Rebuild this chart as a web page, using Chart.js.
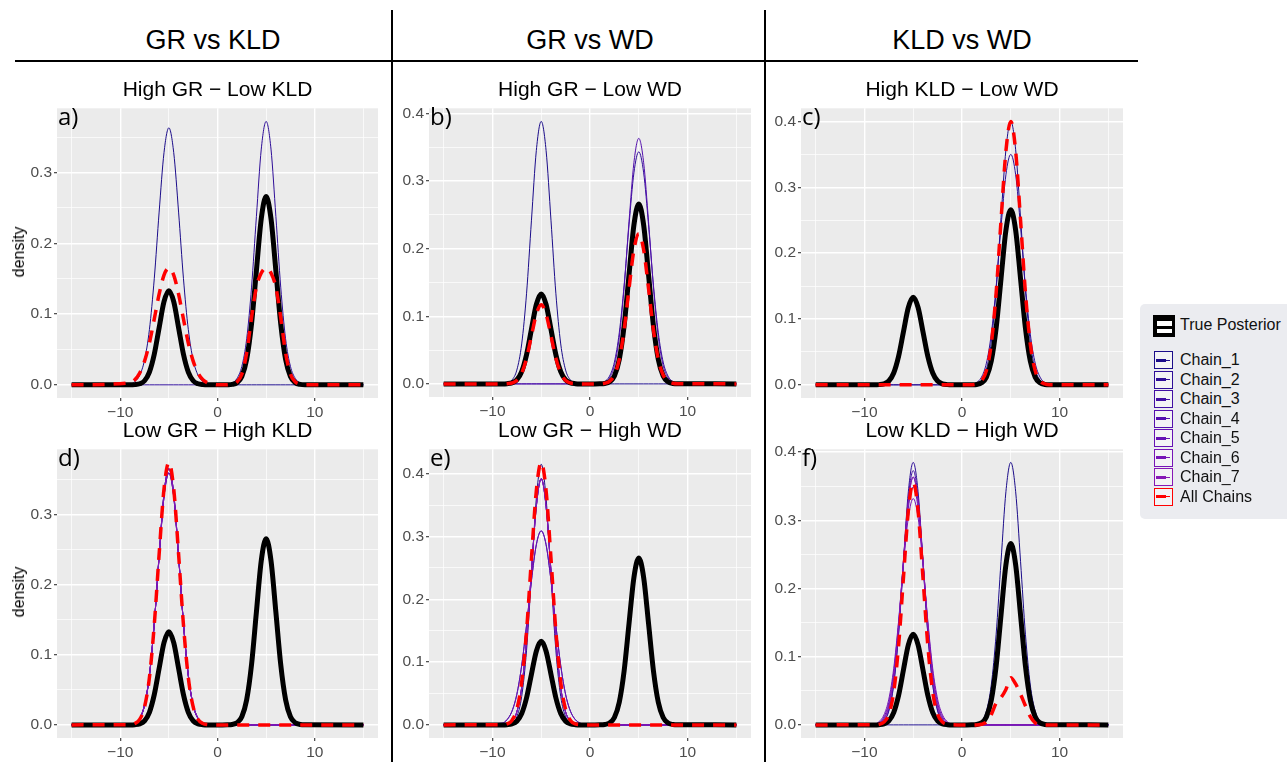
<!DOCTYPE html>
<html><head><meta charset="utf-8">
<script src="https://cdn.jsdelivr.net/npm/chart.js@4.4.1/dist/chart.umd.min.js"></script>
<style>
body{margin:0;background:#fff;}
#root{position:relative;width:1287px;height:762px;overflow:hidden;font-family:'Liberation Sans',Arial,sans-serif;color:#000;}
.abs{position:absolute;}
.hdr{position:absolute;font-size:27px;transform:translate(-50%,-50%);white-space:nowrap;}
.ptitle{position:absolute;font-size:21px;transform:translate(-50%,-50%);white-space:nowrap;}
.plabel{position:absolute;font-family:'Open Sans',sans-serif;font-size:24px;line-height:24px;}
.ylab{position:absolute;font-size:16px;transform:translate(-50%,-50%) rotate(-90deg);white-space:nowrap;}
.legtxt{position:absolute;font-size:16px;transform:translateY(-50%);white-space:nowrap;color:#111;}
canvas{position:absolute;}
</style></head>
<body><div id="root">
<div class="hdr" style="left:213px;top:40px">GR vs KLD</div>
<div class="hdr" style="left:590px;top:40px">GR vs WD</div>
<div class="hdr" style="left:962px;top:40px">KLD vs WD</div>
<div class="abs" style="left:15px;top:60px;width:1123px;height:2px;background:#000"></div>
<div class="abs" style="left:391px;top:10px;width:2px;height:752px;background:#000"></div>
<div class="abs" style="left:764px;top:10px;width:2px;height:752px;background:#000"></div>
</div>
<script>
// ---------- DATA ----------
const xs = [-15, -9, -8.5, -8, -7.5, -7, -6.5, -6, -5.5, -5, -4.5, -4, -3.5, -3, -2.5, -2, -1.5, -1, -0.5, 0, 0.5, 1, 1.5, 2, 2.5, 3, 3.5, 4, 4.5, 5, 5.5, 6, 6.5, 7, 7.5, 8, 8.5, 9, 15];

const truePosterior = [0, 0, .0003, .0015, .0058, .0180, .0432, .0807, .1174, .1330, .1174, .0807, .0432, .0180, .0058, .0015, .0003, 0, 0, 0, 0, .0001, .0006, .0030, .0117, .0360, .0863, .1613, .2347, .2659, .2347, .1613, .0863, .0360, .0117, .0030, .0006, .0001, 0];

// a) High GR - Low KLD
const aChainLeft = [0, .0012, .0045, .0135, .035, .078, .150, .244, .328, .363, .328, .244, .150, .078, .035, .0135, .0045, .0012, 0, 0,0,0,0,0, 0,0,0,0,0, 0,0,0,0,0, 0,0,0,0,0];
const aChainRight = [0,0,0,0,0, 0,0,0,0,0, 0,0,0,0,0, 0,0,0,0,0, 0, .0006, .0025, .0090, .0260, .0650, .138, .238, .333, .372, .333, .238, .138, .0650, .0260, .0090, .0025, .0006, 0];
const aAllChains = [0, .0028, .0072, .0166, .0335, .059, .093, .128, .155, .165, .155, .128, .093, .059, .0335, .0166, .0072, .0028, .001, 0, 0, .0002, .001, .004, .015, .045, .095, .138, .158, .165, .158, .138, .095, .045, .015, .004, .001, .0002, 0];

// b) High GR - Low WD
const bChainLeft = [0, .0002, .0012, .0056, .0204, .059, .134, .242, .345, .388, .345, .242, .134, .059, .0204, .0056, .0012, .0002, 0, 0,0,0,0,0, 0,0,0,0,0, 0,0,0,0,0, 0,0,0,0,0];
const bChainRight1 = [0,0,0,0,0, 0,0,0,0,0, 0,0,0,0,0, 0,0,0,0,0, 0, .0008, .0033, .0114, .0322, .0755, .146, .235, .312, .343, .312, .235, .146, .0755, .0322, .0114, .0033, .0008, 0];
const bChainRight2 = [0,0,0,0,0, 0,0,0,0,0, 0,0,0,0,0, 0,0,0,0,0, 0, .0005, .0023, .0088, .027, .069, .143, .240, .327, .363, .327, .240, .143, .069, .027, .0088, .0023, .0005, 0];
const bAllChains = [0, 0, .0003, .0013, .0051, .0158, .038, .071, .103, .117, .103, .071, .038, .0158, .0051, .0013, .0003, 0, 0, 0, 0, .0002, .0009, .0038, .0131, .0362, .080, .141, .198, .222, .198, .141, .080, .0362, .0131, .0038, .0009, .0002, 0];

// c) High KLD - Low WD
const cChainTall = [0,0,0,0,0, 0,0,0,0,0, 0,0,0,0,0, 0,0,0,0,0, 0, .0003, .0016, .0068, .0235, .065, .144, .254, .357, .400, .357, .254, .144, .065, .0235, .0068, .0016, .0003, 0];
const cChainShort = [0,0,0,0,0, 0,0,0,0,0, 0,0,0,0,0, 0,0,0,0,0, 0, .0008, .0034, .0117, .0329, .077, .149, .240, .319, .350, .319, .240, .149, .077, .0329, .0117, .0034, .0008, 0];
const cAllChains = [0,0,0,0,0, 0,0,0,0,0, 0,0,0,0,0, 0,0,0,0,0, 0, .0002, .0014, .006, .0215, .062, .140, .250, .355, .400, .355, .250, .140, .062, .0215, .006, .0014, .0002, 0];

// d) Low GR - High KLD
const dChain1 = [0, .0005, .0023, .0089, .0277, .070, .145, .242, .330, .366, .330, .242, .145, .070, .0277, .0089, .0023, .0005, 0, 0,0,0,0,0, 0,0,0,0,0, 0,0,0,0,0, 0,0,0,0,0];
const dChain2 = [0, .0006, .0026, .0095, .029, .071, .145, .240, .326, .360, .326, .240, .145, .071, .029, .0095, .0026, .0006, 0, 0,0,0,0,0, 0,0,0,0,0, 0,0,0,0,0, 0,0,0,0,0];
const dAllChains = [0, .0004, .002, .0079, .0257, .0675, .143, .244, .337, .375, .337, .244, .143, .0675, .0257, .0079, .002, .0004, 0, 0,0,0,0,0, 0,0,0,0,0, 0,0,0,0,0, 0,0,0,0,0];

// e) Low GR - High WD
const eChainA = [0, 0, .0005, .0028, .013, .0452, .119, .239, .361, .415, .361, .239, .119, .0452, .013, .0028, .0005, 0, 0, 0,0,0,0,0, 0,0,0,0,0, 0,0,0,0,0, 0,0,0,0,0];
const eChainB = [0, .0002, .0012, .0056, .0206, .0596, .136, .245, .348, .392, .348, .245, .136, .0596, .0206, .0056, .0012, .0002, 0, 0,0,0,0,0, 0,0,0,0,0, 0,0,0,0,0, 0,0,0,0,0];
const eChainC = [0, .0027, .0083, .0216, .0485, .0946, .159, .230, .287, .309, .287, .230, .159, .0946, .0485, .0216, .0083, .0027, .0008, 0,0,0,0,0, 0,0,0,0,0, 0,0,0,0,0, 0,0,0,0,0];
const eAllChains = [0, .0003, .0016, .0071, .0246, .068, .150, .265, .373, .418, .373, .265, .150, .068, .0246, .0071, .0016, .0003, 0, 0,0,0,0,0, 0,0,0,0,0, 0,0,0,0,0, 0,0,0,0,0];

// f) Low KLD - High WD
const fChainRight = [0,0,0,0,0, 0,0,0,0,0, 0,0,0,0,0, 0,0,0,0,0, 0, .0002, .0012, .0055, .0203, .0585, .133, .240, .342, .385, .342, .240, .133, .0585, .0203, .0055, .0012, .0002, 0];
const fChainL1 = [0, .0002, .0012, .0055, .0203, .0585, .133, .240, .342, .385, .342, .240, .133, .0585, .0203, .0055, .0012, .0002, 0, 0,0,0,0,0, 0,0,0,0,0, 0,0,0,0,0, 0,0,0,0,0];
const fChainL2 = [0, .0003, .0015, .0063, .0219, .0608, .134, .237, .333, .373, .333, .237, .134, .0608, .0219, .0063, .0015, .0003, 0, 0,0,0,0,0, 0,0,0,0,0, 0,0,0,0,0, 0,0,0,0,0];
const fChainL3 = [0, .0005, .0023, .0088, .0275, .0694, .144, .241, .328, .3635, .328, .241, .144, .0694, .0275, .0088, .0023, .0005, 0, 0,0,0,0,0, 0,0,0,0,0, 0,0,0,0,0, 0,0,0,0,0];
const fChainL4 = [0, .0008, .0034, .0116, .0328, .0768, .149, .239, .318, .349, .318, .239, .149, .0768, .0328, .0116, .0034, .0008, 0, 0,0,0,0,0, 0,0,0,0,0, 0,0,0,0,0, 0,0,0,0,0];
const fChainL5 = [0, .0013, .0047, .0146, .0378, .0827, .152, .235, .304, .332, .304, .235, .152, .0827, .0378, .0146, .0047, .0013, .0003, 0,0,0,0,0, 0,0,0,0,0, 0,0,0,0,0, 0,0,0,0,0];
const fAllChains = [0, .0001, .0008, .004, .0156, .048, .116, .216, .314, .356, .314, .216, .116, .048, .0156, .004, .0008, .0001, 0, 0, 0, 0, 0, .001, .004, .015, .032, .040, .052, .069, .060, .045, .028, .012, .003, .0005, 0, 0, 0];

// which chain (Chain_1..Chain_7) draws which curve in each panel
const aChains = [aChainLeft, aChainRight, null, null, null, null, null];
const bChains = [bChainLeft, bChainRight1, null, bChainRight2, null, null, null];
const cChains = [cChainTall, cChainShort, null, null, null, null, null];
const dChains = [dChain1, dChain2, dChain1, dChain2, dChain1, dChain2, dChain1];
const eChains = [eChainA, eChainB, eChainC, eChainB, eChainC, eChainB, eChainB];
const fChains = [fChainRight, fChainL1, fChainL2, fChainL3, fChainL4, fChainL5, fChainL3];

const panelTitles = ['High GR \u2212 Low KLD', 'High GR \u2212 Low WD', 'High KLD \u2212 Low WD', 'Low GR \u2212 High KLD', 'Low GR \u2212 High WD', 'Low KLD \u2212 High WD'];
const panelLetters = ['a)', 'b)', 'c)', 'd)', 'e)', 'f)'];
const xTickValues = [-15, -10, -5, 0, 5, 10, 15];
const chainLabels = ['Chain_1', 'Chain_2', 'Chain_3', 'Chain_4', 'Chain_5', 'Chain_6', 'Chain_7'];
const allLabel = 'All Chains';
const trueLabel = 'True Posterior';
const yAxisTitle = 'density';

// ---------- STYLE / LAYOUT ----------
const chainColors = ['#1B0C8A', '#2E0D98', '#410EA4', '#540FAE', '#6511B4', '#7614B7', '#8718B6'];
const panelBoxes = [[57, 378, 105, 398], [429, 751, 105, 397], [801, 1123, 105, 398], [57, 378, 446, 738], [429, 751, 446, 738], [801, 1123, 446, 738]];
const panelAll = [aAllChains, bAllChains, cAllChains, dAllChains, eAllChains, fAllChains];
const panelChains = [aChains, bChains, cChains, dChains, eChains, fChains];

const root = document.getElementById('root');
function el(cls, text, style) { const d = document.createElement('div'); d.className = cls; d.textContent = text; Object.assign(d.style, style); root.appendChild(d); return d; }
function series(vals) { return xs.map((x, i) => ({ x: x, y: vals[i] })); }
const bgPlugin = { id: 'bg', beforeDraw(chart) { const a = chart.chartArea, c = chart.ctx; c.save(); c.fillStyle = '#EBEBEB'; c.fillRect(a.left, a.top, a.right - a.left, a.bottom - a.top); c.restore(); } };
const near = (v, s) => Math.abs(v / s - Math.round(v / s)) < 1e-6;
const fmtX = v => v < 0 ? '\u2212' + Math.abs(v) : String(v);

panelBoxes.forEach((b, i) => {
  const [L, R, T, B] = b;
  const cv = document.createElement('canvas');
  const W = R - L + 58, H = B - T + 38;
  cv.width = W; cv.height = H;
  cv.style.left = (L - 50) + 'px'; cv.style.top = (T - 8) + 'px';
  cv.style.width = W + 'px'; cv.style.height = H + 'px';
  root.appendChild(cv);

  el('ptitle', panelTitles[i], { left: ((L + R) / 2) + 'px', top: (T - 16) + 'px' });
  el('plabel', panelLetters[i], { left: (L + 1) + 'px', top: (T - 1) + 'px' });
  if (i % 3 === 0) el('ylab', yAxisTitle, { left: '19px', top: ((T + B) / 2) + 'px' });

  const ds = [];
  ds.push({ label: allLabel, data: series(panelAll[i]), borderColor: '#FF0000', borderWidth: 3.5, borderDash: [12, 9], order: 0 });
  ds.push({ label: trueLabel, data: series(truePosterior), borderColor: '#000000', borderWidth: 5, order: 1 });
  panelChains[i].forEach((arr, k) => { if (arr) ds.push({ label: chainLabels[k], data: series(arr), borderColor: chainColors[k], borderWidth: 1, order: 10 - k }); });

  let m = 0; ds.forEach(d => d.data.forEach(p => { if (p.y > m) m = p.y; }));
  const yMax = m * 1.05, yMin = -m * 0.05;
  const yTicks = []; for (let k = 0; k * 0.05 <= yMax + 1e-9; k++) yTicks.push(Math.round(k * 5) / 100);

  const xMajor = v => near(v, 10);
  const yMajor = v => near(v, 0.1);
  const tickFont = { family: 'Liberation Sans', size: 15.5 };

  new Chart(cv, {
    type: 'line',
    data: { datasets: ds },
    plugins: [bgPlugin],
    options: {
      responsive: false, animation: false, devicePixelRatio: 1,
      layout: { padding: { left: 0, top: 8, right: 8, bottom: 0 } },
      plugins: { legend: { display: false }, tooltip: { enabled: false } },
      elements: { point: { radius: 0 }, line: { cubicInterpolationMode: 'monotone', borderJoinStyle: 'round', fill: false } },
      scales: {
        x: {
          type: 'linear', min: -16.5, max: 16.5,
          afterBuildTicks: s => { s.ticks = xTickValues.map(v => ({ value: v })); },
          afterFit: s => { s.height = 30; },
          border: { display: false },
          grid: { color: '#FFFFFF', lineWidth: c => (c.tick && xMajor(c.tick.value)) ? 1.4 : 0.7, drawTicks: true, tickLength: 3, tickWidth: 1.1, tickColor: c => (c.tick && xMajor(c.tick.value)) ? '#333333' : 'rgba(0,0,0,0)' },
          ticks: { autoSkip: false, maxRotation: 0, padding: 2, color: '#4D4D4D', font: tickFont, callback: v => xMajor(v) ? fmtX(v) : '' }
        },
        y: {
          type: 'linear', min: yMin, max: yMax,
          afterBuildTicks: s => { s.ticks = yTicks.map(v => ({ value: v })); },
          afterFit: s => { s.width = 50; },
          border: { display: false },
          grid: { color: '#FFFFFF', lineWidth: c => (c.tick && yMajor(c.tick.value)) ? 1.4 : 0.7, drawTicks: true, tickLength: 3, tickWidth: 1.1, tickColor: c => (c.tick && yMajor(c.tick.value)) ? '#333333' : 'rgba(0,0,0,0)' },
          ticks: { autoSkip: false, padding: 2, color: '#4D4D4D', font: tickFont, callback: v => yMajor(v) ? v.toFixed(1) : '' }
        }
      }
    }
  });
});

// ---------- LEGEND ----------
el('abs', '', { left: '1140px', top: '304px', width: '160px', height: '215px', background: '#EBECF0', borderRadius: '5px' });
el('abs', '', { left: '1153px', top: '315px', width: '22px', height: '22px', background: '#000' });
el('abs', '', { left: '1157px', top: '320.5px', width: '14.5px', height: '12.5px', background: '#fff' });
el('abs', '', { left: '1157px', top: '325.5px', width: '14.5px', height: '3px', background: '#000' });
el('legtxt', trueLabel, { left: '1180px', top: '325px' });
const legLabels = chainLabels.concat([allLabel]);
const legColors = chainColors.concat(['#FF0000']);
legLabels.forEach((lab, k) => {
  const cy = 360 + k * 19.5;
  el('abs', '', { left: '1154px', top: (cy - 9) + 'px', width: '17px', height: '16px', border: '1px solid ' + legColors[k], background: '#F3F3F5' });
  el('abs', '', { left: '1156px', top: (cy - 1.5) + 'px', width: '10px', height: '3px', background: legColors[k] });
  el('abs', '', { left: '1166px', top: (cy - 0.5) + 'px', width: '4px', height: '1px', background: legColors[k] });
  el('legtxt', lab, { left: '1180px', top: cy + 'px' });
});
</script>
</body></html>
